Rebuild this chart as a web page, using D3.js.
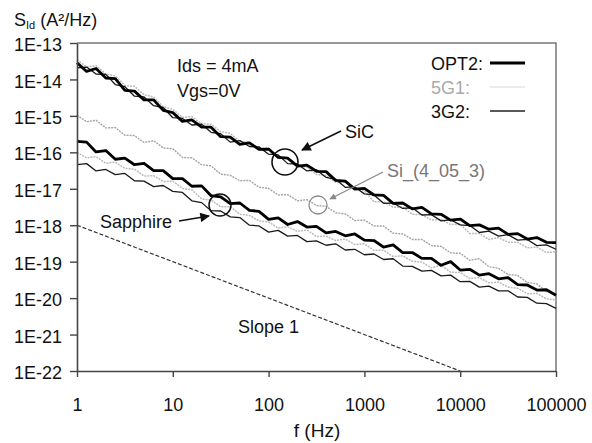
<!DOCTYPE html>
<html>
<head>
<meta charset="utf-8">
<script src="https://cdn.jsdelivr.net/npm/d3@7"></script>
<style>
  body { margin: 0; background: #fff; }
  svg { font-family: "Liberation Sans", Arial, sans-serif; }
</style>
</head>
<body>
<svg id="chart" width="592" height="443"></svg>
<script>

// frequency grid (Hz), shared by all measured curves
var freq = [1, 1.26, 1.58, 2, 2.51, 3.16, 3.98, 5.01, 6.31, 7.94,
  10, 12.6, 15.8, 20, 25.1, 31.6, 39.8, 50.1, 63.1, 79.4,
  100, 126, 158, 200, 251, 316, 398, 501, 631, 794,
  1000, 1259, 1585, 1995, 2512, 3162, 3981, 5012, 6310, 7943,
  10000, 12589, 15849, 19953, 25119, 31623, 39811, 50119, 63096, 79433, 100000];

// log10 of S_Id (A^2/Hz)
// SiC group
var sicOpt2 = [-13.54, -13.78, -13.70, -13.96, -13.98, -14.30, -14.32, -14.56, -14.56, -14.85,
  -14.91, -15.15, -15.11, -15.31, -15.31, -15.57, -15.58, -15.78, -15.74, -15.92,
  -15.91, -16.14, -16.16, -16.38, -16.35, -16.52, -16.53, -16.77, -16.79, -17.01,
  -16.99, -17.17, -17.18, -17.40, -17.39, -17.55, -17.51, -17.69, -17.70, -17.86,
  -17.83, -18.01, -17.99, -18.11, -18.08, -18.25, -18.23, -18.38, -18.34, -18.47, -18.48];
var sic3g2 = [-13.68, -13.66, -13.85, -13.86, -14.14, -14.20, -14.46, -14.48, -14.72, -14.77,
  -15.05, -15.07, -15.25, -15.23, -15.45, -15.49, -15.72, -15.68, -15.84, -15.85,
  -16.05, -16.07, -16.31, -16.32, -16.51, -16.48, -16.69, -16.74, -16.96, -16.95,
  -17.14, -17.17, -17.40, -17.39, -17.54, -17.52, -17.72, -17.71, -17.88, -17.85,
  -17.99, -18.01, -18.20, -18.16, -18.30, -18.26, -18.41, -18.39, -18.56, -18.54, -18.66];
var sic5g1 = [-13.46, -13.66, -13.62, -13.85, -13.90, -14.17, -14.19, -14.42, -14.48, -14.75,
  -14.82, -15.04, -15.02, -15.22, -15.23, -15.43, -15.48, -15.70, -15.72, -15.89,
  -15.88, -16.17, -16.16, -16.37, -16.41, -16.61, -16.63, -16.82, -16.82, -17.01,
  -17.05, -17.36, -17.35, -17.51, -17.50, -17.70, -17.71, -17.86, -17.84, -17.98,
  -17.97, -18.23, -18.23, -18.39, -18.34, -18.47, -18.47, -18.62, -18.60, -18.75, -18.73];
// Si substrate
var si = [-14.98, -15.16, -15.12, -15.33, -15.32, -15.53, -15.54, -15.73, -15.68, -15.88,
  -15.90, -16.14, -16.15, -16.34, -16.37, -16.60, -16.63, -16.78, -16.77, -16.96,
  -16.99, -17.17, -17.16, -17.33, -17.30, -17.46, -17.48, -17.66, -17.69, -17.87,
  -17.86, -18.02, -18.02, -18.22, -18.24, -18.39, -18.39, -18.56, -18.58, -18.76,
  -18.77, -18.96, -18.92, -19.14, -19.18, -19.35, -19.38, -19.57, -19.61, -19.82, -19.88];
// Sapphire group
var sapOpt2 = [-15.70, -15.72, -15.99, -15.95, -16.19, -16.16, -16.34, -16.30, -16.50, -16.50,
  -16.72, -16.72, -16.93, -16.92, -17.19, -17.22, -17.41, -17.39, -17.59, -17.62,
  -17.84, -17.80, -17.98, -17.90, -18.05, -18.03, -18.21, -18.17, -18.29, -18.24,
  -18.41, -18.42, -18.60, -18.54, -18.75, -18.75, -18.91, -18.91, -19.10, -19.00,
  -19.23, -19.21, -19.37, -19.33, -19.47, -19.44, -19.63, -19.64, -19.78, -19.77, -19.92];
var sap3g2 = [-16.34, -16.31, -16.51, -16.47, -16.61, -16.58, -16.78, -16.79, -16.94, -16.91,
  -17.07, -17.10, -17.33, -17.38, -17.60, -17.61, -17.77, -17.79, -18.00, -18.02,
  -18.19, -18.14, -18.30, -18.28, -18.45, -18.43, -18.55, -18.51, -18.68, -18.66,
  -18.81, -18.79, -18.94, -18.92, -19.12, -19.13, -19.26, -19.24, -19.39, -19.37,
  -19.55, -19.54, -19.70, -19.67, -19.80, -19.80, -19.97, -19.98, -20.14, -20.15, -20.28];
var sap5g1 = [-16.00, -16.15, -16.12, -16.30, -16.27, -16.44, -16.46, -16.65, -16.64, -16.80,
  -16.79, -16.99, -17.03, -17.28, -17.31, -17.49, -17.49, -17.70, -17.73, -17.88,
  -17.91, -18.08, -18.04, -18.17, -18.13, -18.31, -18.30, -18.42, -18.38, -18.53,
  -18.51, -18.69, -18.69, -18.86, -18.84, -18.99, -19.01, -19.17, -19.10, -19.29,
  -19.30, -19.46, -19.44, -19.58, -19.56, -19.70, -19.73, -19.88, -19.87, -20.02, -20.05];

// slope-1 reference
var slopeF = [1, 10000];
var slopeS = [1e-18, 1e-22];

var xTicks = [1, 10, 100, 1000, 10000, 100000];
var xTickLabels = ["1", "10", "100", "1000", "10000", "100000"];
var yTicks = [1e-22, 1e-21, 1e-20, 1e-19, 1e-18, 1e-17, 1e-16, 1e-15, 1e-14, 1e-13];
var yTickLabels = ["1E-22", "1E-21", "1E-20", "1E-19", "1E-18", "1E-17", "1E-16", "1E-15", "1E-14", "1E-13"];

var svg = d3.select('#chart');
var pL = 77, pR = 556, pT = 43, pB = 371;

var x = d3.scaleLog().domain([1, 1e5]).range([pL, pR]);
var y = d3.scaleLog().domain([1e-22, 1e-13]).range([pB, pT]);

// plot box (top / right side)
svg.append('path')
  .attr('d', 'M' + pL + ',' + pT + 'H' + pR + 'V' + pB)
  .attr('fill', 'none').attr('stroke', '#777').attr('stroke-width', 1.5);

var line = d3.line().x(d => x(d[0])).y(d => y(Math.pow(10, d[1])));

var series = [
  { v: sic5g1, color: '#bbb', w: 1.5, dash: '2,1' },
  { v: sap5g1, color: '#bbb', w: 1.5, dash: '2,1' },
  { v: si, color: '#a4a4a4', w: 1.4, dash: '2,1' },
  { v: sic3g2, color: '#1a1a1a', w: 1.3, dash: null },
  { v: sap3g2, color: '#1a1a1a', w: 1.3, dash: null },
  { v: sicOpt2, color: '#000', w: 2.8, dash: null },
  { v: sapOpt2, color: '#000', w: 2.8, dash: null }
];

svg.append('g').selectAll('path')
  .data(series)
  .join('path')
  .attr('d', s => line(freq.map((f, i) => [f, s.v[i]])))
  .attr('fill', 'none')
  .attr('stroke', s => s.color)
  .attr('stroke-width', s => s.w)
  .attr('stroke-dasharray', s => s.dash)
  .attr('stroke-linejoin', 'round');

// slope 1 line
svg.append('line')
  .attr('x1', x(slopeF[0])).attr('y1', y(slopeS[0]))
  .attr('x2', x(slopeF[1])).attr('y2', y(slopeS[1]))
  .attr('stroke', '#333').attr('stroke-width', 1.2)
  .attr('stroke-dasharray', '4,2');

// axes
var xAxis = svg.append('g')
  .attr('transform', 'translate(0,' + pB + ')')
  .call(d3.axisBottom(x).tickValues(xTicks).tickFormat((d, i) => xTickLabels[i])
    .tickSize(6).tickPadding(21).tickSizeOuter(0));
var yAxis = svg.append('g')
  .attr('transform', 'translate(' + pL + ',0)')
  .call(d3.axisLeft(y).tickValues(yTicks).tickFormat((d, i) => yTickLabels[i])
    .tickSize(7).tickPadding(8).tickSizeOuter(0));

[xAxis, yAxis].forEach(function(a){
  a.select('.domain').attr('stroke', '#444').attr('stroke-width', 1.6);
  a.selectAll('.tick line').attr('stroke', '#444').attr('stroke-width', 1.4);
  a.selectAll('.tick text').attr('fill', '#111')
    .style('font-size', '18px').style('font-family', '"Liberation Sans", Arial, sans-serif');
});
yAxis.selectAll('.tick text').attr('dy', '0.42em');

// axis titles
var title = svg.append('text').attr('x', 14).attr('y', 26)
  .attr('fill', '#111').style('font-size', '18px');
title.append('tspan').text('S');
title.append('tspan').attr('dy', 3).style('font-size', '11px').text('Id');
title.append('tspan').attr('dy', -3).text(' (A\u00b2/Hz)');

svg.append('text').attr('x', 317).attr('y', 437)
  .attr('text-anchor', 'middle').attr('fill', '#111')
  .style('font-size', '19px').text('f (Hz)');

// conditions
svg.append('text').attr('x', 177).attr('y', 72).attr('fill', '#111')
  .style('font-size', '18px').text('Ids = 4mA');
svg.append('text').attr('x', 177).attr('y', 97).attr('fill', '#111')
  .style('font-size', '18px').text('Vgs=0V');

// legend
var legend = [
  { name: 'OPT2:', color: '#111', line: '#000', w: 3, y: 70 },
  { name: '5G1:', color: '#aaa', line: '#e4e4e4', w: 1.3, y: 94 },
  { name: '3G2:', color: '#111', line: '#222', w: 1.4, y: 118 }
];
legend.forEach(function(l){
  svg.append('text').attr('x', 431).attr('y', l.y)
    .attr('fill', l.color).style('font-size', '18px').text(l.name);
  svg.append('line').attr('x1', 490).attr('x2', 525)
    .attr('y1', l.y - 7).attr('y2', l.y - 7)
    .attr('stroke', l.line).attr('stroke-width', l.w);
});

// annotations
svg.append('defs').append('marker')
  .attr('id', 'arr').attr('viewBox', '0 0 10 10')
  .attr('refX', 9).attr('refY', 5)
  .attr('markerWidth', 7).attr('markerHeight', 6)
  .attr('orient', 'auto')
  .append('path').attr('d', 'M0,0L10,5L0,10z').attr('fill', '#111');
svg.select('defs').append('marker')
  .attr('id', 'arrg').attr('viewBox', '0 0 10 10')
  .attr('refX', 9).attr('refY', 5)
  .attr('markerWidth', 6).attr('markerHeight', 5)
  .attr('orient', 'auto')
  .append('path').attr('d', 'M0,0L10,5L0,10z').attr('fill', '#888');

// SiC
svg.append('circle').attr('cx', 285).attr('cy', 162).attr('r', 13)
  .attr('fill', 'none').attr('stroke', '#111').attr('stroke-width', 1.6);
svg.append('line').attr('x1', 341).attr('y1', 131).attr('x2', 302).attr('y2', 150)
  .attr('stroke', '#111').attr('stroke-width', 1.6).attr('marker-end', 'url(#arr)');
svg.append('text').attr('x', 345).attr('y', 138).attr('fill', '#111')
  .style('font-size', '18px').text('SiC');

// Si
svg.append('circle').attr('cx', 318).attr('cy', 205).attr('r', 9)
  .attr('fill', 'none').attr('stroke', '#888').attr('stroke-width', 1.3);
svg.append('line').attr('x1', 383).attr('y1', 172).attr('x2', 330).attr('y2', 199)
  .attr('stroke', '#888').attr('stroke-width', 1.3).attr('marker-end', 'url(#arrg)');
svg.append('text').attr('x', 387).attr('y', 177).attr('fill', '#777')
  .style('font-size', '18px').text('Si_(4_05_3)');

// Sapphire
svg.append('circle').attr('cx', 220).attr('cy', 205).attr('r', 11)
  .attr('fill', 'none').attr('stroke', '#111').attr('stroke-width', 1.5);
svg.append('line').attr('x1', 179).attr('y1', 221).attr('x2', 209).attr('y2', 216)
  .attr('stroke', '#111').attr('stroke-width', 1.6).attr('marker-end', 'url(#arr)');
svg.append('text').attr('x', 100).attr('y', 228).attr('fill', '#111')
  .style('font-size', '18px').text('Sapphire');

svg.append('text').attr('x', 238).attr('y', 333).attr('fill', '#111')
  .style('font-size', '18px').text('Slope 1');

</script>
</body>
</html>
